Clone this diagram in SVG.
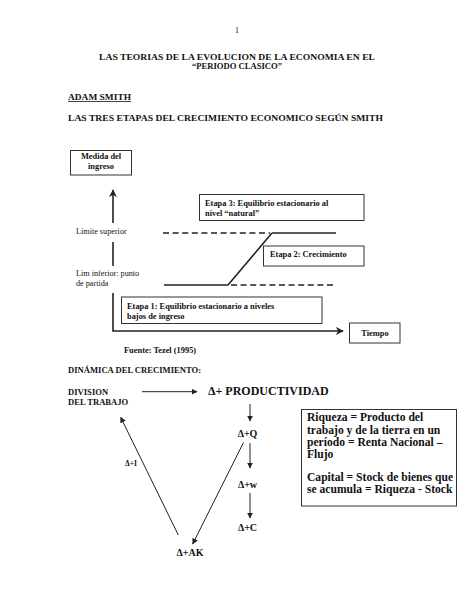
<svg xmlns="http://www.w3.org/2000/svg" width="474" height="613" viewBox="0 0 474 613">
<style>
text{font-family:"Liberation Serif","Times New Roman",serif;fill:#111}
.b{font-weight:bold}
.h{font-size:8.6px;font-weight:bold}
.s{font-size:8.2px}
.n{font-size:8.4px;font-weight:bold}
.box{fill:#fff;stroke:#333;stroke-width:1}
.ln{stroke:#222;stroke-width:1;fill:none}
.ax{stroke:#222;stroke-width:1.6;fill:none}
.dash{stroke:#222;stroke-width:1.6;stroke-dasharray:6 3.6;fill:none}
.big{font-size:12px;font-weight:bold}
.m{font-size:10px;font-weight:bold}
.r{font-size:11.6px;font-weight:bold}
</style>
<defs>
<marker id="ah" viewBox="0 0 10 10" refX="9" refY="5" markerWidth="6" markerHeight="6" markerUnits="userSpaceOnUse" orient="auto">
<path d="M0,0 L10,5 L0,10 z" fill="#222"/>
</marker>
<marker id="ah2" viewBox="0 0 10 10" refX="9" refY="5" markerWidth="8" markerHeight="8" markerUnits="userSpaceOnUse" orient="auto">
<path d="M0,0 L10,5 L0,10 L3,5 z" fill="#222"/>
</marker>
</defs>

<g id="page-header">
<text x="237" y="33" text-anchor="middle" style="font-size:8px">1</text>
<text x="237" y="59.5" text-anchor="middle" class="h" textLength="276" lengthAdjust="spacingAndGlyphs">LAS TEORIAS DE LA EVOLUCION DE LA ECONOMIA EN EL</text>
<text x="237" y="69" text-anchor="middle" class="h">“PERIODO CLASICO”</text>
<text x="68" y="100" class="h" textLength="63" lengthAdjust="spacingAndGlyphs">ADAM SMITH</text>
<line x1="68" y1="101.5" x2="131" y2="101.5" stroke="#111" stroke-width="0.8"/>
<text x="68" y="120.5" class="h" textLength="315" lengthAdjust="spacingAndGlyphs">LAS TRES ETAPAS DEL CRECIMIENTO ECONOMICO SEGÚN SMITH</text>
</g>

<g id="connectors">
<!-- left axis -->
<line class="ax" x1="113" y1="223" x2="113" y2="190" marker-end="url(#ah2)"/>
<line class="ax" x1="113" y1="242" x2="113" y2="266"/>
<polyline class="ax" points="113,293 113,331 343,331" marker-end="url(#ah2)"/>
<!-- levels -->
<line class="ax" x1="164" y1="285" x2="228" y2="285"/>
<line class="dash" x1="231" y1="285" x2="336" y2="285"/>
<line class="ax" x1="228" y1="285" x2="272" y2="233"/>
<line class="dash" x1="163" y1="233" x2="270" y2="233"/>
<line class="ax" x1="272" y1="233" x2="336" y2="233"/>
<!-- dynamics -->
<line class="ln" x1="142" y1="391.7" x2="197" y2="391.7" marker-end="url(#ah)"/>
<line class="ln" x1="250" y1="404" x2="250" y2="421" marker-end="url(#ah)"/>
<line class="ln" x1="250" y1="443" x2="250" y2="468" marker-end="url(#ah)"/>
<line class="ln" x1="250" y1="493" x2="250" y2="518" marker-end="url(#ah)"/>
<line class="ln" x1="243.5" y1="442.5" x2="192.7" y2="544" marker-end="url(#ah)"/>
<line class="ln" x1="178.3" y1="535" x2="120.7" y2="417.3" marker-end="url(#ah)"/>
</g>

<g id="medida">
<rect class="box" x="70.5" y="150.5" width="61" height="24.5"/>
<text x="101" y="159" text-anchor="middle" class="n">Medida del</text>
<text x="101" y="169" text-anchor="middle" class="n">ingreso</text>
</g>

<g id="limite-superior">
<text x="76" y="233.5" class="s">Limite superior</text>
</g>

<g id="lim-inferior">
<text x="76" y="275.5" class="s">Lim inferior: punto</text>
<text x="76" y="285.5" class="s">de partida</text>
</g>

<g id="etapa3">
<rect class="box" x="199.5" y="194.5" width="164.5" height="26"/>
<text x="205" y="205.5" class="n">Etapa 3: Equilibrio estacionario al</text>
<text x="205" y="215.5" class="n">nivel “natural”</text>
</g>

<g id="etapa2">
<rect class="box" x="263.5" y="246" width="100.5" height="20"/>
<text x="270" y="257" class="n">Etapa 2: Crecimiento</text>
</g>

<g id="etapa1">
<rect class="box" x="121.5" y="297" width="200.5" height="26.5"/>
<text x="127" y="309" class="n">Etapa 1: Equilibrio estacionario a niveles</text>
<text x="127" y="319" class="n">bajos de ingreso</text>
</g>

<g id="tiempo">
<rect class="box" x="349.5" y="323" width="50.5" height="20"/>
<text x="375" y="336" text-anchor="middle" class="n">Tiempo</text>
</g>

<g id="fuente">
<text x="124" y="353" class="n">Fuente: Tezel (1995)</text>
</g>

<g id="dinamica-title">
<text x="68" y="373" class="h">DINÁMICA DEL CRECIMIENTO:</text>
</g>

<g id="division">
<text x="68" y="394.5" class="h">DIVISION</text>
<text x="68" y="404.5" class="h">DEL TRABAJO</text>
</g>

<g id="productividad">
<text x="208" y="394.5" class="big">Δ+ PRODUCTIVIDAD</text>
</g>

<g id="dq"><text x="247.5" y="436.5" text-anchor="middle" class="m">Δ+Q</text></g>
<g id="dw"><text x="247.5" y="487.5" text-anchor="middle" class="m">Δ+w</text></g>
<g id="dc"><text x="247.5" y="531" text-anchor="middle" class="m">Δ+C</text></g>
<g id="dak"><text x="190" y="555.5" text-anchor="middle" class="m">Δ+AK</text></g>
<g id="di"><text x="125" y="465.5" style="font-size:7.5px;font-weight:bold">Δ+I</text></g>

<g id="riqueza">
<rect class="box" x="301.5" y="409.5" width="155" height="96.5"/>
<text x="307" y="421" class="r">Riqueza = Producto del</text>
<text x="307" y="433.5" class="r">trabajo y de la tierra en un</text>
<text x="307" y="446" class="r">período = Renta Nacional –</text>
<text x="307" y="458" class="r">Flujo</text>
<text x="307" y="480.5" class="r">Capital = Stock de bienes que</text>
<text x="307" y="492.5" class="r">se acumula = Riqueza - Stock</text>
</g>
</svg>
